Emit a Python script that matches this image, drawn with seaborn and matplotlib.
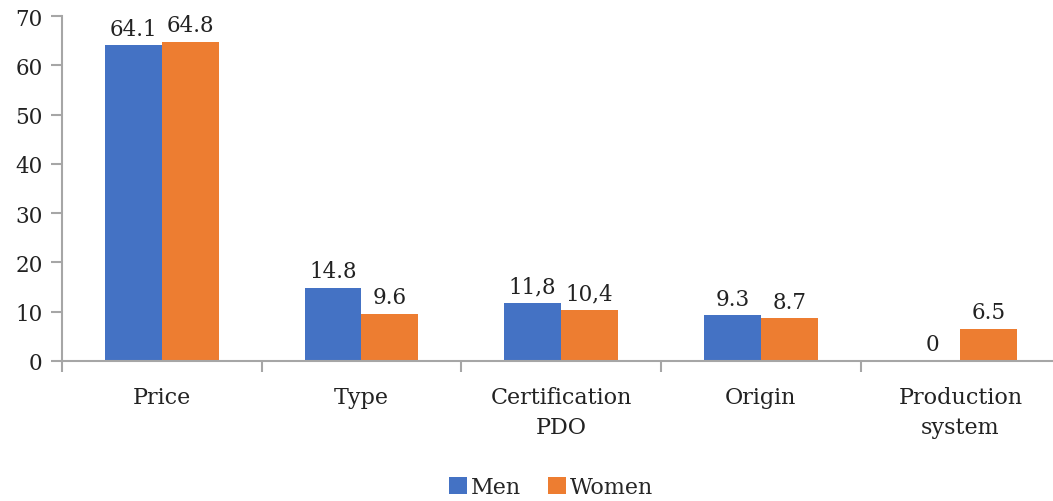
import matplotlib
matplotlib.use("Agg")
import matplotlib.pyplot as plt
import numpy as np
import pandas as pd
import seaborn as sns

# chart data
categories = ["Price", "Type", "Certification\nPDO", "Origin", "Production\nsystem"]
men = [64.1, 14.8, 11.8, 9.3, 0.0]
women = [64.8, 9.6, 10.4, 8.7, 6.5]
men_labels = ["64.1", "14.8", "11,8", "9.3", "0"]
women_labels = ["64.8", "9.6", "10,4", "8.7", "6.5"]
series = ["Men", "Women"]
y_ticks = [0, 10, 20, 30, 40, 50, 60, 70]

sns.set_style("white")
plt.rcParams["font.family"] = ["DejaVu Serif"]

df = pd.DataFrame({
    "category": categories * 2,
    "value": men + women,
    "sex": ["Men"] * len(men) + ["Women"] * len(women),
})

fig = plt.figure(figsize=(10.53, 5.02), dpi=100)
ax = fig.add_axes([0.0589, 0.279, 0.948, 0.687])

sns.barplot(
    data=df, x="category", y="value", hue="sex", order=categories,
    hue_order=series, palette=["#4472C4", "#ED7D31"], width=0.57,
    saturation=1, edgecolor="none", ax=ax,
)

for cont, labels in zip(ax.containers, [men_labels, women_labels]):
    ax.bar_label(cont, labels=labels, padding=4, fontsize=15.5, color="#222222")

grey = "#A6A6A6"
ax.set_ylim(0, 70)
ax.set_yticks(y_ticks)
ax.set_xlim(-0.5, 4.5)
ax.set_xlabel("")
ax.set_ylabel("")
for side in ["top", "right"]:
    ax.spines[side].set_visible(False)
for side in ["left", "bottom"]:
    ax.spines[side].set_color(grey)
    ax.spines[side].set_linewidth(1.5)

ax.tick_params(axis="y", which="major", left=True, length=8, width=1.5,
               color=grey, labelsize=15.5, pad=6, labelcolor="#222222")
ax.tick_params(axis="x", which="major", length=0, labelsize=16, pad=18,
               labelcolor="#222222")
for lab in ax.get_xticklabels():
    lab.set_linespacing(1.45)
ax.set_xticks(np.arange(-0.5, 5.0, 1.0), minor=True)
ax.tick_params(axis="x", which="minor", bottom=True, length=8, width=1.5,
               color=grey)

ax.legend(
    loc="upper center", bbox_to_anchor=(0.49, -0.275), ncol=2, frameon=False,
    fontsize=16, handlelength=0.8, handleheight=0.8, handletextpad=0.2,
    columnspacing=1.2,
)

fig.savefig("out.png", dpi=100)
